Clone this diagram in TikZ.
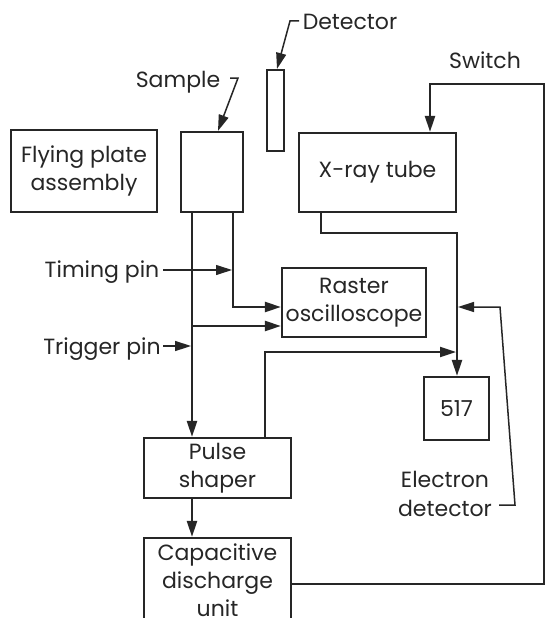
\documentclass[tikz,border=0pt]{standalone}
\usepackage{fontspec}
\setmainfont{Poppins}
\usetikzlibrary{arrows.meta}
\definecolor{ink}{HTML}{262626}
\tikzset{
  box/.style={draw=ink, line width=2.2pt, inner sep=0pt, align=center, text=ink,
    font=\fontsize{22}{28}\selectfont},
  lbl/.style={text=ink, inner sep=0pt, anchor=base, font=\fontsize{22}{28}\selectfont},
  wire/.style={draw=ink, line width=2.2pt},
  medwire/.style={draw=ink, line width=1.5pt},
  thinwire/.style={draw=ink, line width=1.1pt},
  tip/.style={-{Triangle[length=16pt,width=10pt]}},
}
\begin{document}
\begin{tikzpicture}[x=1pt,y=-1pt]
\useasboundingbox[fill=white] (0,0) rectangle (546,618);
% boxes
\node[box, minimum width=146pt, minimum height=82pt] (flying) at (84,171) {Flying plate\\assembly};
\node[box, minimum width=62pt, minimum height=80pt] (sample) at (212,172) {};
\node[box, minimum width=17pt, minimum height=81pt] (det) at (275.5,110.5) {};
\node[box, minimum width=157pt, minimum height=79pt] (xray) at (377.5,172.5) {X-ray tube};
\node[box, minimum width=144pt, minimum height=69pt] (raster) at (354,302.5) {Raster\\oscilloscope};
\node[box, minimum width=65pt, minimum height=63pt] (u517) at (456.5,408.5) {517};
\node[box, minimum width=147pt, minimum height=60pt] (pulse) at (217.5,468) {Pulse\\shaper};
\node[box, minimum width=147pt, minimum height=84pt] (cap) at (217.5,580) {Capacitive\\discharge\\unit};
% labels
\node[lbl] (lsample) at (178,87) {Sample};
\node[lbl] (ldet) at (350,30) {Detector};
\node[lbl] (lswitch) at (485,69) {Switch};
\node[lbl] (ltiming) at (102,277) {Timing pin};
\node[lbl] (ltrigger) at (102,354) {Trigger pin};
\node[lbl] (lelec1) at (445,487) {Electron};
\node[lbl] (lelec2) at (445,516) {detector};
% coordinates
\coordinate (swB) at (544,584);
\coordinate (swT) at (544,84);
\coordinate (swL) at (430,84);
\coordinate (xa) at (321,233);
\coordinate (xb) at (457,233);
\coordinate (pa) at (265,352);
\coordinate (pj) at (456,352);
\coordinate (e1) at (499,505);
\coordinate (e2) at (515,505);
\coordinate (e3) at (500,307);
\coordinate (ej) at (458,307);
\coordinate (sl) at (192,212);
\coordinate (sr) at (233,307);
\coordinate (br) at (192,326);
\coordinate (tp) at (163,270);
\coordinate (tpE) at (232,270);
\coordinate (gp) at (163,346);
\coordinate (gpE) at (191,346);
\coordinate (sp1) at (230,78);
\coordinate (sp2) at (238,78);
\coordinate (spT) at (218,132);
\coordinate (dp1) at (299,21);
\coordinate (dp2) at (290,21);
\coordinate (dpT) at (277,70);
% connectors
\draw[wire,tip] (cap.east |- swB) -- (swB) -- (swT) -- (swL) -- (swL |- xray.north);
\draw[wire,tip] (xa |- xray.south) -- (xa) -- (xb) -- (xb |- u517.north);
\draw[wire,tip] (pa |- pulse.north) -- (pa) -- (pj);
\draw[medwire,tip] (e1) -- (e2) -- (e3) -- (ej);
\draw[wire,tip] (sl |- sample.south) -- (sl |- pulse.north);
\draw[wire,tip] (sr |- sample.south) -- (sr) -- (sr -| raster.west);
\draw[wire,tip] (br) -- (br -| raster.west);
\draw[wire,tip] (sl |- pulse.south) -- (sl |- cap.north);
\draw[thinwire,tip] (tp) -- (tpE);
\draw[medwire,tip] (gp) -- (gpE);
\draw[medwire,tip] (sp1) -- (sp2) -- (spT |- sample.north);
\draw[medwire,tip] (dp1) -- (dp2) -- (dpT |- det.north);
\end{tikzpicture}
\end{document}
